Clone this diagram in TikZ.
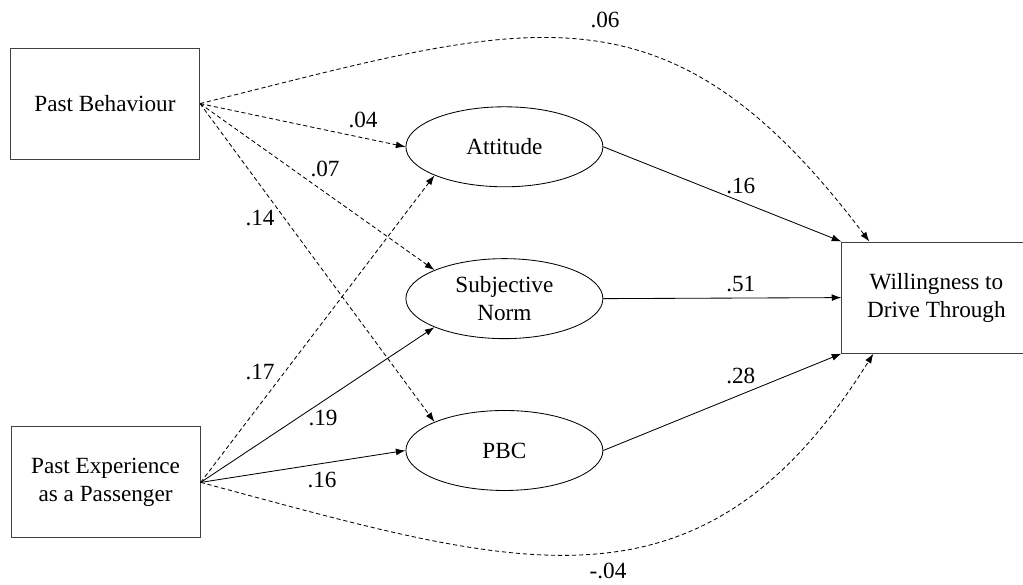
\documentclass[tikz,border=0pt]{standalone}
\usepackage{fontspec}
\setmainfont{Liberation Serif}
\usetikzlibrary{arrows.meta,positioning,shapes.geometric}
\newcommand{\pathfont}{\fontsize{16.5}{20}\selectfont}
\tikzset{
    >={Latex[length=2.4mm,width=1.7mm]},
    every picture/.style={line width=0.6pt},
    every node/.style={font=\pathfont},
    obsbox/.style={rectangle,draw=black!75,line width=0.8pt,minimum width=4.725cm,minimum height=2.775cm,align=center,inner sep=0pt},
    latent/.style={ellipse,draw,minimum width=4.925cm,minimum height=2cm,align=center,inner sep=0pt},
    effect/.style={->},
    weak/.style={->,dash pattern=on 3pt off 2pt},
    coef/.style={inner sep=1pt}
}

\begin{document}
\begin{tikzpicture}
    \useasboundingbox (0,0) rectangle (25.575,14.6);

    % observed variables
    \node[obsbox] (pb) at (2.625,12.01) {Past Behaviour};
    \node[obsbox] (pe) at (2.64,2.54) {Past Experience\\as a Passenger};
    \node[obsbox] (wd) at (23.41,7.16) {Willingness to\\Drive Through};

    % TPB constructs
    \node[latent] (att) at (12.61,10.93) {Attitude};
    \node[latent, below=1.775cm of att] (sn) {Subjective\\Norm};
    \node[latent, below=1.775cm of sn] (pbc) {PBC};

    \coordinate (wdtop) at ([xshift=0.7cm]wd.north west);
    \coordinate (wdbot) at ([xshift=0.8cm]wd.south west);

    % paths from past behaviour
    \draw[weak] (pb.east) -- (att.west);
    \draw[weak] (pb.east) -- (sn.north west);
    \draw[weak] (pb.east) -- (pbc.north west);
    \draw[weak] (pb.east) to[out=14,in=127,looseness=1.27] (wdtop);

    % paths from past experience
    \draw[weak] (pe.east) -- (att.south west);
    \draw[effect] (pe.east) -- (sn.south west);
    \draw[effect] (pe.east) -- (pbc.west);
    \draw[weak] (pe.east) to[out=-15,in=-122,looseness=1.22] (wdbot);

    % paths to willingness
    \draw[effect] (att.east) -- (wd.north west);
    \draw[effect] (sn.east) -- (wd.west);
    \draw[effect] (pbc.east) -- (wd.south west);

    % coefficients
    \node[coef] (c04) at (9.075,11.6) {.04};
    \node[coef] (c07) at (8.125,10.375) {.07};
    \node[coef] (c14) at (6.5,9.15) {.14};
    \node[coef] (c17) at (6.5,5.3) {.17};
    \node[coef] (c19) at (8.075,4.15) {.19};
    \node[coef] (c16a) at (8.05,2.6) {.16};
    \node[coef] (c16b) at (18.52,9.95) {.16};
    \node[coef] (c51) at (18.52,7.5) {.51};
    \node[coef] (c28) at (18.52,5.2) {.28};
    \node[coef] (c06) at (15.125,14.11) {.06};
    \node[coef] (cm04) at (15.2,0.32) {-.04};
\end{tikzpicture}
\end{document}
